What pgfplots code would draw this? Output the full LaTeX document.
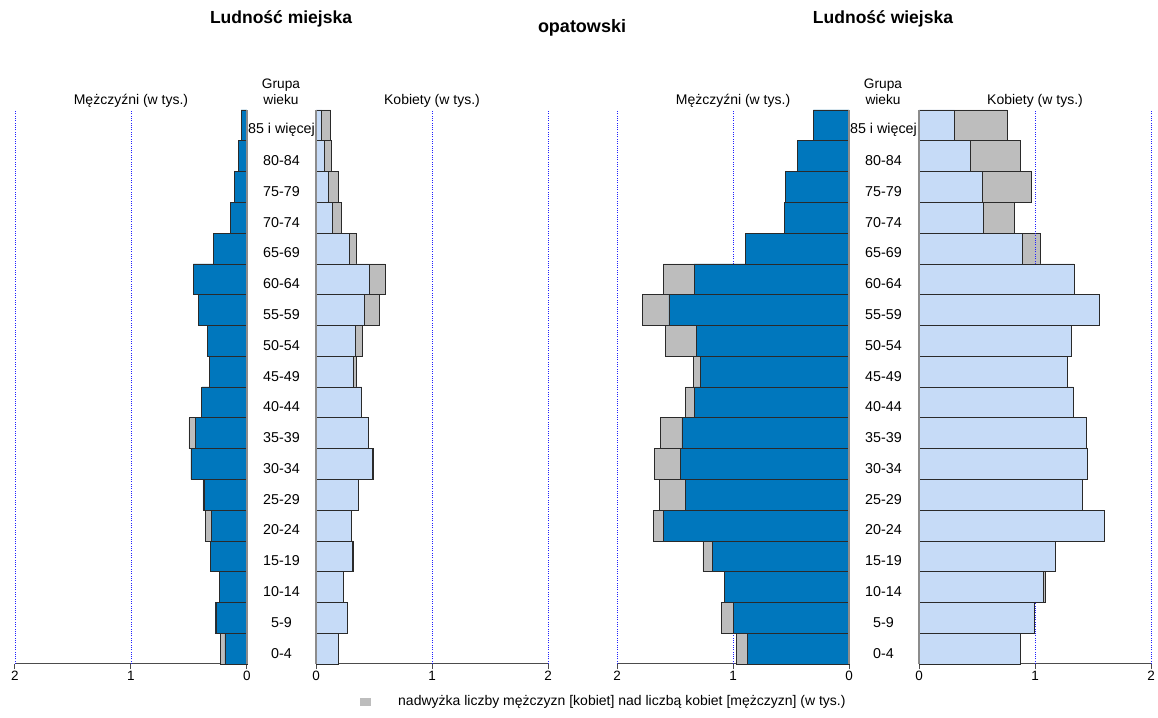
\documentclass[border=0pt]{standalone}
\usepackage{pgfplots}
\pgfplotsset{compat=1.18}
\usepackage{pgfplotstable}
\usepackage{fontspec}
\setmainfont{Liberation Sans}
\definecolor{mblue}{HTML}{0077BD}
\definecolor{fblue}{HTML}{C6DBF7}
\definecolor{xgrey}{HTML}{BDBDBD}
\definecolor{gridblue}{HTML}{2020FF}
\definecolor{edge}{HTML}{2A2A2A}

% pos: 0 = 0-4 ... 17 = 85 i wiecej ; M = men, F = women, C = common part (min)
\pgfplotstableread{
pos M F C
0 0.230 0.190 0.190
1 0.272 0.268 0.268
2 0.241 0.238 0.238
3 0.313 0.318 0.313
4 0.360 0.307 0.307
5 0.380 0.365 0.365
6 0.483 0.497 0.483
7 0.500 0.448 0.448
8 0.390 0.395 0.390
9 0.325 0.350 0.325
10 0.339 0.400 0.339
11 0.420 0.550 0.420
12 0.463 0.595 0.463
13 0.290 0.350 0.290
14 0.144 0.220 0.144
15 0.105 0.195 0.105
16 0.075 0.130 0.075
17 0.050 0.125 0.050
}\urban

\pgfplotstableread{
pos M F C
0 0.968 0.875 0.875
1 1.098 0.995 0.995
2 1.072 1.089 1.072
3 1.259 1.178 1.178
4 1.687 1.598 1.598
5 1.632 1.410 1.410
6 1.675 1.452 1.452
7 1.624 1.440 1.440
8 1.408 1.330 1.330
9 1.342 1.279 1.279
10 1.580 1.316 1.316
11 1.780 1.552 1.552
12 1.600 1.335 1.335
13 0.894 1.050 0.894
14 0.557 0.820 0.557
15 0.546 0.970 0.546
16 0.445 0.875 0.445
17 0.307 0.760 0.307
}\rural

\pgfplotsset{
  pyr/.style={
    scale only axis, width=232pt, height=554pt,
    xmin=0, xmax=2, ymin=-0.5, ymax=17.5,
    axis x line*=bottom, axis y line=none,
    x axis line style={draw=black!70, line width=1pt, -},
    xtick={0,1,2}, ytick=\empty,
    tick align=outside, major tick length=5pt,
    every tick/.style={draw=black!70, line width=1pt},
    xticklabel style={font=\fontsize{13.5}{15}\selectfont, inner sep=2pt},
    /pgf/number format/assume math mode=true,
    clip=false,
  },
  bars/.style={xbar, bar width=1, bar shift=0pt, line width=0.7pt, draw=edge},
}

\newcommand{\gridlines}{%
  \draw[gridblue, line width=0.8pt, dash pattern=on 0.9pt off 1.4pt] (axis cs:1,-0.5) -- (axis cs:1,17.5);
  \draw[gridblue, line width=0.8pt, dash pattern=on 0.9pt off 1.4pt] (axis cs:2,-0.5) -- (axis cs:2,17.5);
}
\newcommand{\zeroline}{%
  \draw[black!45, line width=1.3pt] (axis cs:0,-0.5) -- (axis cs:0,17.5);
}

\begin{document}
\begin{tikzpicture}[x=1pt,y=1pt]
\path[use as bounding box] (0,0) rectangle (1158,717);

% ---- urban men
\begin{axis}[pyr, x dir=reverse, at={(15pt,53pt)}, anchor=south west]
  \addplot[bars, fill=xgrey] table[x=M, y=pos] {\urban};
  \gridlines
  \addplot[bars, fill=mblue] table[x=C, y=pos] {\urban};
  \zeroline
\end{axis}
% ---- urban women
\begin{axis}[pyr, at={(316pt,53pt)}, anchor=south west]
  \addplot[bars, fill=xgrey] table[x=F, y=pos] {\urban};
  \gridlines
  \addplot[bars, fill=fblue] table[x=C, y=pos] {\urban};
  \zeroline
\end{axis}
% ---- rural men
\begin{axis}[pyr, x dir=reverse, at={(617pt,53pt)}, anchor=south west]
  \addplot[bars, fill=xgrey] table[x=M, y=pos] {\rural};
  \gridlines
  \addplot[bars, fill=mblue] table[x=C, y=pos] {\rural};
  \zeroline
\end{axis}
% ---- rural women
\begin{axis}[pyr, at={(919pt,53pt)}, anchor=south west]
  \addplot[bars, fill=xgrey] table[x=F, y=pos] {\rural};
  \gridlines
  \addplot[bars, fill=fblue] table[x=C, y=pos] {\rural};
  \zeroline
\end{axis}

% age group labels
\foreach \lab [count=\i from 0] in {0-4,5-9,10-14,15-19,20-24,25-29,30-34,35-39,40-44,45-49,50-54,55-59,60-64,65-69,70-74,75-79,80-84,85 i więcej}{
  \node[font=\fontsize{14.3}{16}\selectfont, inner sep=0pt] at (281.5, {53+(\i+0.5)*30.7778-4.5}) {\lab};
  \node[font=\fontsize{14.3}{16}\selectfont, inner sep=0pt] at (883.5, {53+(\i+0.5)*30.7778-4.5}) {\lab};
}

% titles
\node[font=\fontsize{17.5}{20}\selectfont\bfseries] at (281,698) {Ludność miejska};
\node[font=\fontsize{18}{20}\selectfont\bfseries] at (582,689) {opatowski};
\node[font=\fontsize{17.5}{20}\selectfont\bfseries] at (883,698) {Ludność wiejska};

\foreach \cx in {281,883}{
  \node[font=\fontsize{13.7}{16}\selectfont, align=center, inner sep=0pt] at (\cx,625) {Grupa\\wieku};
}
\node[font=\fontsize{14}{15}\selectfont] at (131,616) {Mężczyźni (w tys.)};
\node[font=\fontsize{14}{15}\selectfont] at (432,616) {Kobiety (w tys.)};
\node[font=\fontsize{14}{15}\selectfont] at (733,616) {Mężczyźni (w tys.)};
\node[font=\fontsize{14}{15}\selectfont] at (1035,616) {Kobiety (w tys.)};

% legend
\fill[xgrey] (360,11) rectangle (371,19);
\node[font=\fontsize{14}{15}\selectfont, anchor=west, inner sep=0pt] at (398,15) {nadwyżka liczby mężczyzn [kobiet] nad liczbą kobiet [mężczyzn] (w tys.)};
\end{tikzpicture}
\end{document}
